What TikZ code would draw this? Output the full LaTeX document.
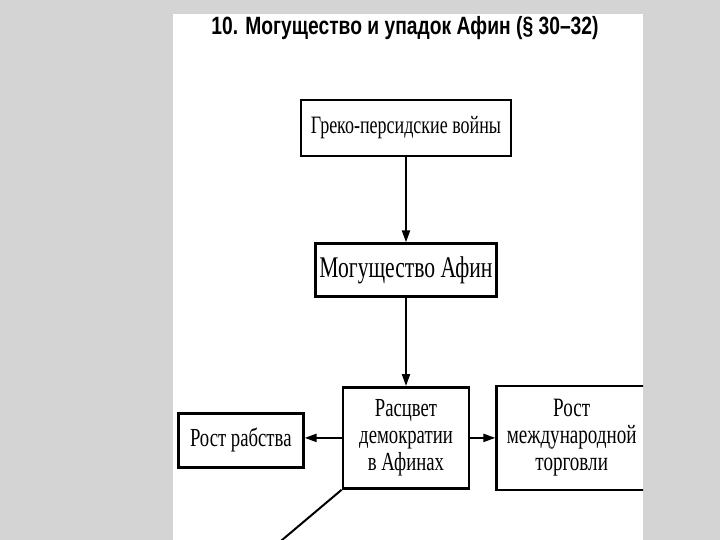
\documentclass[tikz,border=0pt]{standalone}
\usepackage{fontspec}
\setmainfont[FakeStretch=0.72]{Liberation Serif}
\newfontfamily\headfont[FakeStretch=0.77]{Liberation Sans}
\usetikzlibrary{arrows.meta,positioning}
\definecolor{bggray}{HTML}{D4D4D4}

\begin{document}
\begin{tikzpicture}[
  x=1pt, y=-1pt,
  box/.style={draw, line width=2.7pt, align=center, inner sep=0pt},
  arr/.style={-{Triangle[length=12pt,width=8pt]}, line width=2pt}
]
\useasboundingbox (0,0) rectangle (720,540);
\fill[bggray] (0,0) rectangle (720,540);
\fill[white] (173,14) rectangle (643,540);
\begin{scope}
\clip (173,14) rectangle (643,540);
\node[anchor=base, font=\headfont\bfseries\fontsize{25}{26}\selectfont] (title) at (405,35) {10. Могущество и упадок Афин (§ 30–32)};
\node[box, minimum width=210pt, minimum height=56pt, font=\fontsize{25}{26}\selectfont] (wars) at (406,128) {Греко-персидские войны};
\node[box, below=85pt of wars, minimum width=181pt, minimum height=53pt, font=\fontsize{30}{30}\selectfont] (power) {Могущество Афин};
\node[box, below=88pt of power, minimum width=126pt, minimum height=101pt, font=\fontsize{26}{27}\selectfont] (demo) {Расцвет\\демократии\\в Афинах};
\node[box, left=37pt of demo, yshift=-2.5pt, minimum width=125pt, minimum height=54pt, font=\fontsize{26}{27}\selectfont] (slaves) {Рост рабства};
\node[box, right=25pt of demo, minimum width=150pt, minimum height=104pt, font=\fontsize{26.5}{27}\selectfont] (trade) {Рост\\международной\\торговли};
\coordinate (tail) at (269,551);
\draw[arr] (wars) -- (power);
\draw[arr] (power) -- (demo);
\draw[arr] (demo.west) -- (demo.west -| slaves.east);
\draw[arr] (demo) -- (trade);
\draw[line width=2pt] (demo.south west) -- (tail);
\end{scope}
\end{tikzpicture}
\end{document}
